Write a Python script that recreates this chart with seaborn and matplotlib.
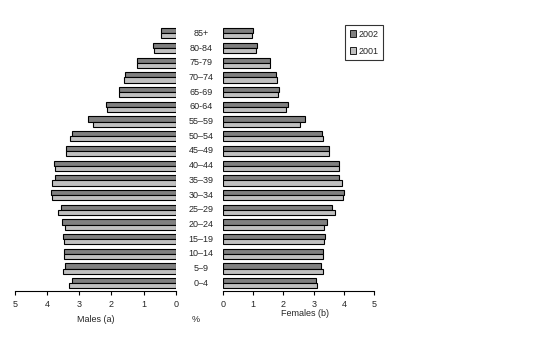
import matplotlib
matplotlib.use("Agg")
import matplotlib.pyplot as plt
import seaborn as sns
import pandas as pd
from matplotlib.patches import Patch

ages = ["85+", "80-84", "75-79", "70–74", "65-69", "60-64", "55–59", "50–54", "45–49",
        "40–44", "35–39", "30–34", "25–29", "20–24", "15–19", "10–14", "5–9", "0–4"]
years = ["2002", "2001"]

males_2002 = [0.45, 0.70, 1.20, 1.57, 1.76, 2.16, 2.72, 3.21, 3.42,
              3.77, 3.74, 3.86, 3.55, 3.52, 3.49, 3.46, 3.43, 3.21]
males_2001 = [0.45, 0.67, 1.20, 1.60, 1.76, 2.13, 2.58, 3.28, 3.42,
              3.74, 3.83, 3.83, 3.65, 3.43, 3.46, 3.46, 3.49, 3.31]
females_2002 = [1.01, 1.12, 1.57, 1.75, 1.87, 2.14, 2.70, 3.27, 3.49,
                3.85, 3.85, 4.01, 3.59, 3.45, 3.38, 3.32, 3.25, 3.09]
females_2001 = [0.98, 1.09, 1.57, 1.80, 1.84, 2.10, 2.54, 3.32, 3.49,
                3.85, 3.92, 3.98, 3.71, 3.35, 3.35, 3.32, 3.32, 3.12]

xticks = [0, 1, 2, 3, 4, 5]

def long(v02, v01):
    return pd.DataFrame({
        "age": ages * 2,
        "year": ["2002"] * len(ages) + ["2001"] * len(ages),
        "value": list(v02) + list(v01),
    })

df_m = long(males_2002, males_2001)
df_f = long(females_2002, females_2001)

sns.set_style("white")
plt.rcParams["font.family"] = ["Liberation Sans", "DejaVu Sans"]
plt.rcParams["font.size"] = 6.5

palette = {"2002": "#808080", "2001": "#c0c0c0"}

W, H = 540, 347
fig = plt.figure(figsize=(W / 100, H / 100), dpi=100)
bottom = 1 - 290.7 / H
height = (290.7 - 26) / H
axL = fig.add_axes([14.7 / W, bottom, (176 - 14.7) / W, height])
axR = fig.add_axes([222.7 / W, bottom, (374.3 - 222.7) / W, height])

for ax, df in ((axL, df_m), (axR, df_f)):
    sns.barplot(data=df, x="value", y="age", hue="year", order=ages, hue_order=years,
                palette=palette, edgecolor="black", linewidth=0.8, width=0.7,
                errorbar=None, orient="h", legend=False, ax=ax, saturation=1)
    ax.set_ylim(len(ages) - 0.5, -0.5)
    ax.set_xticks(xticks)
    ax.set_xticklabels([str(t) for t in xticks])
    ax.set_yticks([])
    ax.set_xlabel("")
    ax.set_ylabel("")
    for s in ("top", "left", "right"):
        ax.spines[s].set_visible(False)
    ax.spines["bottom"].set_linewidth(0.8)
    ax.spines["bottom"].set_color("black")
    ax.tick_params(axis="x", direction="out", length=3, width=0.8, color="black",
                   labelsize=6.5, pad=4, bottom=True)

axL.set_xlim(5, 0)
axR.set_xlim(0, 5)

# category labels in the middle
for i, a in enumerate(ages):
    axR.annotate(a, xy=(0, i), xycoords=("axes fraction", "data"),
                 xytext=(-(222.7 - 201), 0), textcoords="offset pixels",
                 ha="center", va="center", fontsize=6.5)

fig.text(96 / W, 1 - 320 / H, "Males (a)", ha="center", va="center", fontsize=6.5)
fig.text(305 / W, 1 - 313 / H, "Females (b)", ha="center", va="center", fontsize=6.5)
fig.text(196 / W, 1 - 320 / H, "%", ha="center", va="center", fontsize=6.5)

handles = [Patch(facecolor=palette[y], edgecolor="black", linewidth=0.6, label=y) for y in years]
leg = fig.legend(handles=handles, loc="upper left", bbox_to_anchor=(345 / W, 1 - 25 / H),
                 fontsize=6.5, frameon=True, fancybox=False, handlelength=0.7,
                 handleheight=0.7, handletextpad=0.3, borderpad=0.5, labelspacing=0.9,
                 borderaxespad=0)
leg.get_frame().set_edgecolor("black")
leg.get_frame().set_linewidth(0.8)

fig.savefig("out.png", dpi=100)
